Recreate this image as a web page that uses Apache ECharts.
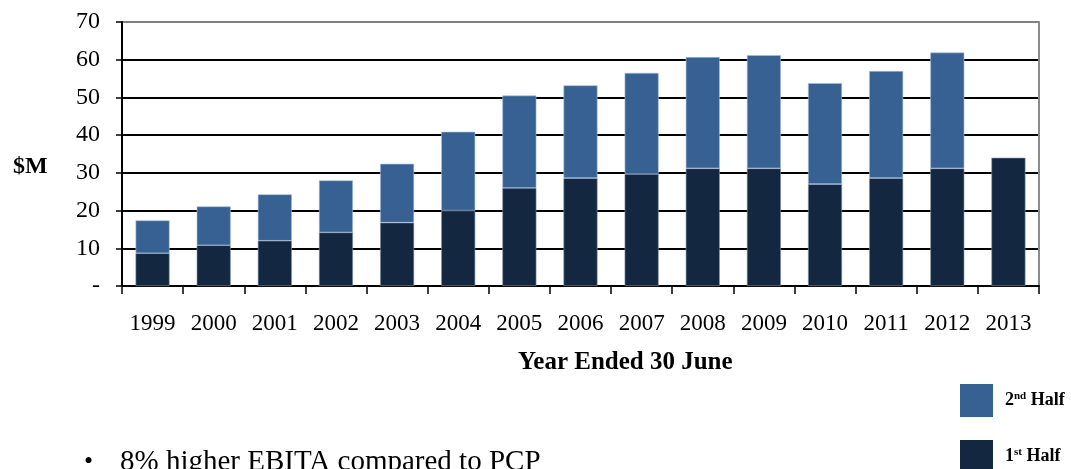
<!DOCTYPE html>
<html>
<head>
<meta charset="utf-8">
<script src="https://cdn.jsdelivr.net/npm/echarts@6/dist/echarts.min.js"></script>
<style>
  html, body { margin: 0; padding: 0; background: #fff; }
  #chart { width: 1071px; height: 469px; }
</style>
</head>
<body>
<div id="chart"></div>
<script>
const chart = echarts.init(document.getElementById('chart'));

// data ($M)
const years = ['1999', '2000', '2001', '2002', '2003', '2004', '2005', '2006',
               '2007', '2008', '2009', '2010', '2011', '2012', '2013'];
const firstHalf = [8.7, 10.8, 12.0, 14.2, 16.8, 20.0, 26.0, 28.6, 29.7, 31.2, 31.2, 27.0, 28.6, 31.2, 34.0];
const secondHalf = [8.7, 10.3, 12.3, 13.8, 15.6, 20.9, 24.5, 24.6, 26.8, 29.5, 30.0, 26.8, 28.4, 30.7, null];
const yTicks = [0, 10, 20, 30, 40, 50, 60, 70];

const serif = '"Liberation Serif", "Times New Roman", serif';

// one legend block per item, 上标 via rich text
function legendBlock(name, top, txt) {
    return {
        orient: 'vertical',
        left: 960,
        top: top,
        padding: 0,
        itemWidth: 33,
        itemHeight: 33,
        icon: 'rect',
        data: [name],
        itemStyle: { borderWidth: 0 },
        formatter: function () { return txt; },
        textStyle: {
            padding: [0, 0, 0, 7],
            rich: {
                n: { fontFamily: serif, fontWeight: 'bold', fontSize: 18, color: '#000' },
                s: { fontFamily: serif, fontWeight: 'bold', fontSize: 11, color: '#000', verticalAlign: 'top', padding: [0, 0, 8, 0] }
            }
        }
    };
}

var option = {
    animation: false,
    backgroundColor: '#fff',
    grid: { left: 122, right: 32, top: 22, bottom: 183 },
    legend: [
        legendBlock('2nd Half', 384, '{n|2}{s|nd}{n| Half}'),
        legendBlock('1st Half', 440, '{n|1}{s|st}{n| Half}')
    ],
    xAxis: {
        type: 'category',
        data: years,
        axisLine: { lineStyle: { color: '#000', width: 2 } },
        axisTick: { show: true, length: 8, lineStyle: { color: '#000', width: 1.5 } },
        axisLabel: { fontFamily: serif, fontSize: 23, color: '#000', margin: 26 }
    },
    yAxis: [
        {
            type: 'value',
            min: yTicks[0],
            max: yTicks[yTicks.length - 1],
            interval: 10,
            axisLine: { show: true, lineStyle: { color: '#000', width: 2 } },
            axisTick: { show: true, length: 6, lineStyle: { color: '#000', width: 1.5 } },
            axisLabel: {
                fontFamily: serif, fontSize: 24, color: '#000', margin: 22,
                formatter: function (v) { return v === 0 ? '-' : v; }
            },
            splitLine: {
                lineStyle: {
                    color: ['#000', '#000', '#000', '#000', '#000', '#000', '#000', '#808080'],
                    width: 1.8
                }
            }
        },
        {
            type: 'value',
            position: 'right',
            min: yTicks[0],
            max: yTicks[yTicks.length - 1],
            interval: 10,
            axisLine: { show: true, lineStyle: { color: '#8c8c8c', width: 2 } },
            axisTick: { show: false },
            axisLabel: { show: false },
            splitLine: { show: false }
        }
    ],
    graphic: [
        {
            type: 'text', left: 13, top: 155,
            style: { text: '$M', font: 'bold 24px ' + serif, fill: '#000' }
        },
        {
            type: 'text', left: 518, top: 350,
            style: { text: 'Year Ended 30 June', font: 'bold 25px ' + serif, fill: '#000' }
        },
        {
            type: 'text', left: 84, top: 449,
            style: { text: '•', font: '26px ' + serif, fill: '#000' }
        },
        {
            type: 'text', left: 120, top: 448,
            style: { text: '8% higher EBITA compared to PCP', font: '29px ' + serif, fill: '#000' }
        }
    ],
    series: [
        {
            name: '1st Half',
            type: 'bar',
            stack: 'ebita',
            barWidth: 34,
            data: firstHalf,
            itemStyle: { color: '#132741', borderColor: '#7f93ad', borderWidth: 0.6 }
        },
        {
            name: '2nd Half',
            type: 'bar',
            stack: 'ebita',
            barWidth: 34,
            data: secondHalf,
            itemStyle: { color: '#376192', borderColor: '#a9bfdc', borderWidth: 0.6 }
        }
    ]
};
option && chart.setOption(option);
</script>
</body>
</html>
